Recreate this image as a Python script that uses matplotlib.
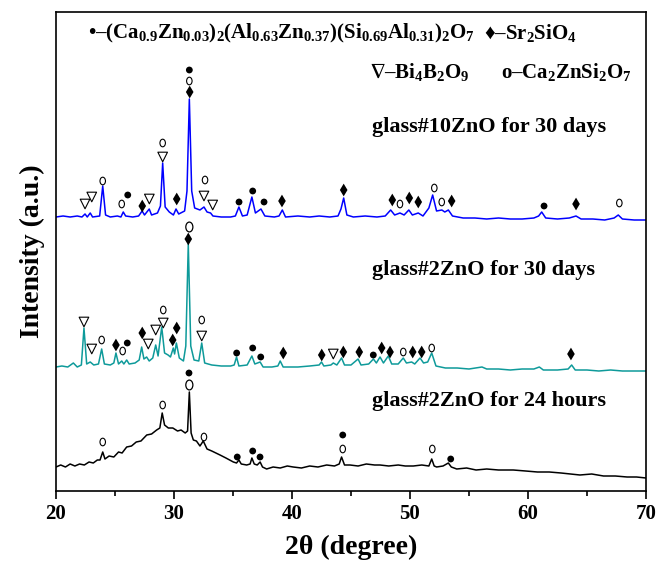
import matplotlib
matplotlib.use("Agg")
import matplotlib.pyplot as plt
from matplotlib.path import Path
from matplotlib.transforms import Affine2D
from matplotlib.ticker import MultipleLocator

plt.rcParams['font.family'] = ['Liberation Serif', 'DejaVu Serif']
plt.rcParams['font.weight'] = 'bold'
plt.rcParams['mathtext.fontset'] = 'custom'
plt.rcParams['mathtext.rm'] = 'Liberation Serif:bold'
plt.rcParams['mathtext.it'] = 'Liberation Serif:italic:bold'
plt.rcParams['mathtext.bf'] = 'Liberation Serif:bold'
plt.rcParams['mathtext.fallback'] = 'stix'

# digitised patterns: (2theta, intensity a.u., curves already stacked)
blue_pts = [(20.0, 274), (20.6, 275), (21.2, 274), (21.8, 275), (22.2, 274), (22.46, 277), (22.65, 274),
            (22.9, 278), (23.1, 274), (23.7, 275), (23.96, 305), (24.2, 276), (24.6, 274), (25.2, 275),
            (25.5, 274), (25.7, 279), (25.9, 275), (26.5, 274), (27.0, 275), (27.3, 280), (27.5, 276),
            (27.9, 282), (28.1, 276), (28.6, 278), (28.85, 285), (29.04, 328), (29.25, 284), (29.6, 279),
            (29.95, 276), (30.17, 282), (30.4, 277), (30.9, 280), (31.1, 300), (31.3, 392), (31.5, 300),
            (31.75, 283), (32.2, 281), (32.54, 284), (32.8, 279), (33.1, 278), (33.3, 275), (34.0, 274),
            (34.8, 274), (35.2, 275), (35.5, 284), (35.8, 275), (36.2, 276), (36.6, 294), (36.9, 278),
            (37.37, 282), (37.7, 275), (38.5, 274), (38.9, 275), (39.18, 281), (39.45, 274), (40.5, 275),
            (41.5, 274), (42.3, 275), (43.2, 274), (43.9, 275), (44.15, 282), (44.38, 293), (44.65, 276),
            (45.2, 274), (46.2, 275), (47.2, 274), (47.9, 275), (48.36, 281), (48.7, 276), (49.15, 278),
            (49.5, 276), (49.9, 281), (50.2, 276), (50.7, 278), (51.1, 275), (51.6, 283), (51.92, 296),
            (52.25, 280), (52.7, 281), (52.95, 279), (53.25, 281), (53.6, 275), (54.5, 273), (55.5, 273),
            (56.5, 272), (57.5, 273), (58.5, 272), (59.5, 272), (60.5, 273), (60.9, 275), (61.16, 279),
            (61.5, 273), (62.5, 272), (63.5, 273), (64.07, 275), (64.5, 272), (65.5, 272), (66.5, 271),
            (67.3, 273), (67.65, 276), (68.0, 272), (69.0, 271), (70.0, 271)]

teal_pts = [(20.0, 124), (20.5, 125), (21.0, 124), (21.47, 128), (21.8, 124), (22.15, 126), (22.37, 163),
            (22.6, 127), (22.9, 129), (23.2, 126), (23.6, 127), (23.87, 142), (24.1, 127), (24.6, 126),
            (24.9, 128), (25.08, 138), (25.3, 127), (25.57, 130), (25.75, 127), (25.99, 131), (26.2, 127),
            (26.7, 128), (27.05, 131), (27.26, 144), (27.45, 132), (27.68, 134), (27.9, 130), (28.2, 133),
            (28.45, 146), (28.65, 135), (28.96, 164), (29.2, 138), (29.5, 136), (29.7, 134), (29.94, 143),
            (30.05, 137), (30.2, 148), (30.45, 133), (30.8, 130), (31.0, 145), (31.21, 247), (31.42, 145),
            (31.7, 131), (32.1, 130), (32.35, 148), (32.6, 128), (33.2, 126), (34.0, 125), (34.8, 125),
            (35.1, 126), (35.3, 134), (35.5, 125), (36.2, 126), (36.6, 135), (36.85, 127), (37.3, 129),
            (37.55, 124), (38.3, 124), (38.8, 125), (39.0, 130), (39.25, 124), (40.5, 124), (41.5, 125),
            (42.3, 126), (42.5, 129), (42.7, 125), (43.3, 126), (43.5, 128), (43.8, 126), (44.2, 133),
            (44.45, 126), (45.0, 126), (45.6, 132), (45.85, 126), (46.5, 127), (46.9, 132), (47.15, 128),
            (47.46, 134), (47.75, 128), (48.16, 135), (48.45, 127), (49.0, 127), (49.43, 133), (49.7, 128),
            (50.14, 129), (50.4, 127), (50.85, 133), (51.15, 128), (51.5, 129), (51.84, 138), (52.2, 125),
            (53.0, 123), (54.0, 123), (55.0, 122), (56.1, 124), (56.5, 122), (57.5, 122), (58.5, 121),
            (59.5, 122), (60.5, 122), (60.96, 124), (61.3, 121), (62.5, 121), (63.4, 122), (63.7, 126),
            (64.0, 121), (65.0, 121), (66.0, 120), (67.0, 121), (68.0, 120), (69.0, 120), (70.0, 120)]

black_pts = [(20.0, 24), (20.4, 26), (20.8, 24), (21.2, 27), (21.6, 25), (22.0, 27), (22.4, 26), (22.8, 29),
             (23.16, 28), (23.5, 31), (23.73, 31), (23.96, 39), (24.15, 32), (24.5, 35), (24.9, 34),
             (25.3, 39), (25.6, 38), (25.99, 44), (26.4, 45), (26.8, 49), (27.2, 50), (27.69, 56),
             (28.1, 57), (28.53, 61), (28.8, 63), (29.0, 78), (29.2, 66), (29.52, 63), (29.9, 63),
             (30.3, 60), (30.6, 61), (30.95, 58), (31.15, 60), (31.3, 99), (31.45, 58), (31.64, 51),
             (31.9, 50), (32.2, 45), (32.48, 50), (32.8, 42), (33.2, 40), (33.9, 36), (34.4, 33),
             (35.03, 29), (35.3, 28), (35.5, 31), (35.7, 27), (36.16, 26), (36.45, 27), (36.6, 33),
             (36.8, 27), (37.05, 26), (37.3, 29), (37.5, 24), (37.85, 22), (38.4, 24), (39.0, 23),
             (39.6, 25), (40.1, 24), (40.8, 23), (41.5, 25), (42.2, 24), (42.94, 26), (43.6, 25),
             (44.0, 27), (44.2, 34), (44.45, 26), (44.92, 26), (45.6, 25), (46.3, 27), (47.0, 26),
             (47.46, 26), (48.2, 25), (49.0, 26), (49.6, 25), (50.28, 25), (51.0, 26), (51.6, 25),
             (51.84, 32), (52.05, 25), (52.26, 24), (52.8, 25), (53.25, 28), (53.5, 24), (53.96, 22),
             (54.8, 23), (55.6, 21), (56.5, 22), (57.5, 21), (58.75, 21), (59.8, 20), (60.8, 19),
             (61.8, 19), (62.8, 18), (63.6, 17), (64.4, 16), (65.4, 17), (66.4, 15), (67.4, 15),
             (68.4, 14), (69.2, 14), (70.0, 13)]

# phase marks: dot=(Ca,Zn)2(Al,Zn)(Si,Al)2O7, dia=Sr2SiO4, tri=Bi4B2O9, o/O=Ca2ZnSi2O7
blue_marks = [(22.46, 287, 'tri'), (23.03, 294, 'tri'), (23.96, 310, 'o'), (25.57, 287, 'o'),
              (26.08, 296, 'dot'), (27.31, 285, 'dia'), (27.91, 292, 'tri'), (29.04, 334, 'tri'),
              (29.04, 348, 'o'), (30.23, 292, 'dia'), (31.3, 421, 'dot'), (31.3, 410, 'o'),
              (31.33, 399, 'dia'), (32.63, 311, 'o'), (32.54, 295, 'tri'), (33.28, 286, 'tri'),
              (35.51, 289, 'dot'), (36.67, 300, 'dot'), (37.63, 289, 'dot'), (39.15, 290, 'dia'),
              (44.38, 301, 'dia'), (48.5, 291, 'dia'), (49.15, 287, 'o'), (49.94, 293, 'dia'),
              (50.7, 289, 'dia'), (52.06, 303, 'o'), (52.69, 289, 'o'), (53.53, 290, 'dia'),
              (61.36, 285, 'dot'), (64.07, 287, 'dia'), (67.74, 288, 'o')]

teal_marks = [(22.37, 169, 'tri'), (23.03, 142, 'tri'), (23.87, 151, 'o'), (25.08, 146, 'dia'),
              (25.65, 140, 'o'), (26.04, 148, 'dot'), (27.31, 158, 'dia'), (27.82, 147, 'tri'),
              (28.45, 161, 'tri'), (29.09, 181, 'o'), (29.09, 168, 'tri'), (29.89, 151, 'dia'),
              (30.23, 163, 'dia'), (31.3, 264, 'O'), (31.21, 252, 'dia'), (32.35, 171, 'o'),
              (32.35, 155, 'tri'), (35.31, 138, 'dot'), (36.67, 143, 'dot'), (37.35, 134, 'dot'),
              (39.26, 138, 'dia'), (42.52, 136, 'dia'), (43.5, 137, 'tri'), (44.35, 139, 'dia'),
              (45.7, 139, 'dia'), (46.89, 136, 'dot'), (47.6, 143, 'dia'), (48.31, 139, 'dia'),
              (49.43, 139, 'o'), (50.23, 139, 'dia'), (50.99, 139, 'dia'), (51.84, 143, 'o'),
              (63.64, 137, 'dia')]

black_marks = [(23.96, 49, 'o'), (29.04, 86, 'o'), (31.27, 118, 'dot'), (31.3, 106, 'O'),
               (32.54, 54, 'o'), (35.36, 34, 'dot'), (36.67, 40, 'dot'), (37.29, 34, 'dot'),
               (44.3, 56, 'dot'), (44.3, 42, 'o'), (51.89, 42, 'o'), (53.45, 32, 'dot')]

curve_labels = ['glass#10ZnO for 30 days', 'glass#2ZnO for 30 days', 'glass#2ZnO for 24 hours']
label_y = [364, 221, 90]
colors = ['#0000ff', '#0e9a9a', 'black']

oval = Path.unit_circle().transformed(Affine2D().scale(0.72, 1.0))
mark_style = {
    'dot': dict(marker='o', s=24, facecolors='black', edgecolors='none'),
    'dia': dict(marker='d', s=42, facecolors='black', edgecolors='none'),
    'tri': dict(marker='v', s=48, facecolors='none', edgecolors='black', linewidths=0.8),
    'o': dict(marker=oval, s=30, facecolors='none', edgecolors='black', linewidths=0.8),
    'O': dict(marker=oval, s=50, facecolors='none', edgecolors='black', linewidths=0.9),
}

fig = plt.figure(figsize=(6.67, 5.68), dpi=100)
ax = fig.add_axes([56 / 667, 1 - 491 / 568, 590 / 667, 479 / 568])

for pts, marks, col, lab, ly in zip([blue_pts, teal_pts, black_pts],
                                    [blue_marks, teal_marks, black_marks],
                                    colors, curve_labels, label_y):
    ax.plot([p[0] for p in pts], [p[1] for p in pts], color=col, lw=1.1)
    for kind in mark_style:
        sel = [m for m in marks if m[2] == kind]
        if sel:
            ax.scatter([m[0] for m in sel], [m[1] for m in sel], zorder=3, **mark_style[kind])
    ax.text(46.8, ly, lab, fontsize=16, fontweight='bold', va='center', ha='left')

# phase key at the top
key_kw = dict(transform=ax.transAxes, fontsize=15, fontweight='bold', va='center', ha='left')
ax.text(0.055, 0.956, '•–(Ca$_{0.9}$Zn$_{0.03}$)$_2$(Al$_{0.63}$Zn$_{0.37}$)(Si$_{0.69}$Al$_{0.31}$)$_2$O$_7$', **key_kw)
ax.text(0.725, 0.956, '♦–Sr$_2$SiO$_4$', **key_kw)
ax.text(0.532, 0.875, r'$\nabla$–Bi$_4$B$_2$O$_9$', **key_kw)
ax.text(0.754, 0.875, 'o–Ca$_2$ZnSi$_2$O$_7$', **key_kw)

ax.set_xlim(20, 70)
ax.set_ylim(0, 479)
ax.set_yticks([])
ax.xaxis.set_major_locator(MultipleLocator(10))
ax.xaxis.set_minor_locator(MultipleLocator(5))
ax.tick_params(axis='x', which='major', direction='out', length=6, width=1.2, labelsize=15)
ax.tick_params(axis='x', which='minor', direction='out', length=3.5, width=1.2)
for lbl in ax.get_xticklabels():
    lbl.set_fontweight('bold')
for sp in ax.spines.values():
    sp.set_linewidth(1.2)

ax.set_xlabel('2θ (degree)', fontsize=20, fontweight='bold', labelpad=8)
ax.set_ylabel('Intensity (a.u.)', fontsize=20, fontweight='bold', labelpad=8)

fig.savefig('out.png', dpi=100)
